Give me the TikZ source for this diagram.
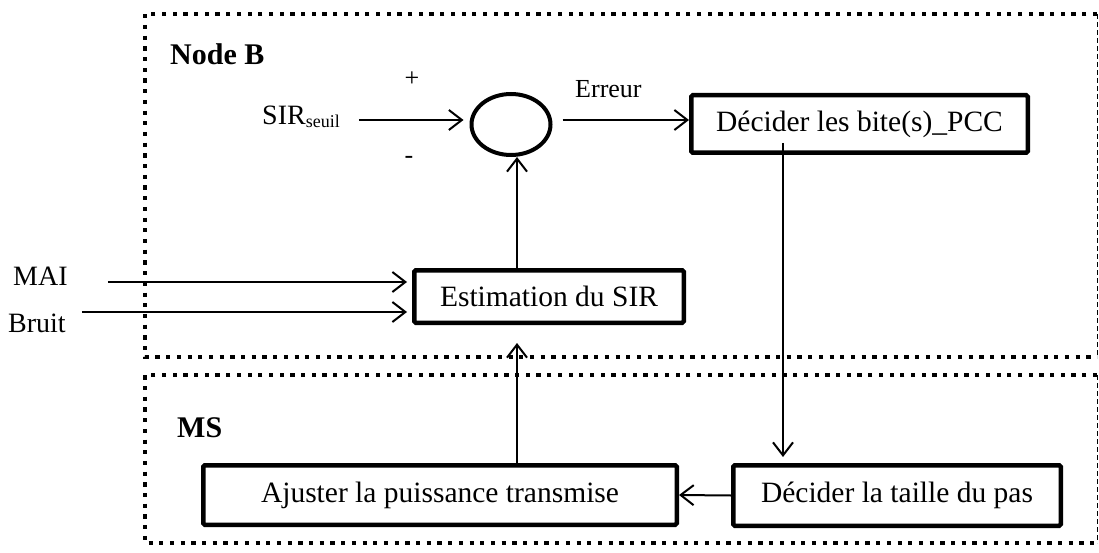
\documentclass[tikz,border=0pt]{standalone}
\usepackage{fontspec}
\setmainfont{Liberation Serif}
\usetikzlibrary{arrows.meta,shapes.geometric}
\begin{document}
\begin{tikzpicture}[x=1pt,y=-1pt,
  blk/.style={draw, line width=4.5pt, rounded corners=1.5pt, inner sep=0pt,
              font=\fontsize{29.5}{32}\selectfont},
  lbl/.style={inner sep=0pt, font=\fontsize{28}{30}\selectfont},
  sml/.style={inner sep=0pt, font=\fontsize{26}{28}\selectfont},
  hdr/.style={inner sep=0pt, font=\fontsize{30}{32}\selectfont\bfseries},
  arr/.style={line width=2pt, -{Straight Barb[length=13pt,width=20pt,line width=2pt]}},
  grp/.style={line width=4.2pt, dash pattern=on 4.2pt off 6.5pt},
  grpedge/.style={line width=1pt, dash pattern=on 5pt off 3pt}]
\useasboundingbox (0,0) rectangle (1099,553);

% group frames: Node B (top) and MS (bottom)
\draw[grp] (1097,14) -- (145,14) -- (145,357) -- (1097,357);
\draw[grpedge] (1097,14) -- (1097,357);
\draw[grp] (1097,375) -- (145,375) -- (145,543) -- (1097,543);
\draw[grpedge] (1097,375) -- (1097,543);

\node[hdr, anchor=base west] (nb) at (170,65) {Node B};
\node[hdr, anchor=base west] (ms) at (177,437) {MS};

% blocks
\node[ellipse, draw, line width=4pt, minimum width=79pt, minimum height=61pt, inner sep=0pt] (circ) at (511,124.5) {};
\node[blk, minimum width=336.5pt, minimum height=57.5pt] (pcc) at (859.5,124) {Décider les bite(s)\_PCC};
\node[blk, minimum width=269.5pt, minimum height=52.5pt] (est) at (549,296.5) {Estimation du SIR};
\node[blk, minimum width=473.5pt, minimum height=59.5pt] (aj) at (440,495) {Ajuster la puissance transmise};
\node[blk, minimum width=327.5pt, minimum height=60.5pt] (taille) at (897,495.5) {Décider la taille du pas\hspace{19pt}};

% labels
\node[lbl, anchor=base west] (sir) at (262,125) {SIR\raisebox{-2.5pt}{\fontsize{18}{18}\selectfont seuil}};
\node[sml] (plus) at (412,79) {+};
\node[sml] (minus) at (409,160) {-};
\node[sml, anchor=base west] (err) at (575,98) {Erreur};
\node[lbl, anchor=base west] (mai) at (13,285) {MAI};
\node[lbl, anchor=base west] (bruit) at (8,332) {Bruit};

% reference points for connectors
\coordinate (lvl) at (0,120);
\coordinate (vx) at (517,0);
\coordinate (dx) at (783,0);
\coordinate (inA) at ([yshift=14.5pt]est.west);
\coordinate (inB) at ([yshift=-15.5pt]est.west);

% connectors
\draw[arr, shorten <=19pt, shorten >=6pt] (sir.east |- lvl) -- (circ.west |- lvl);
\draw[arr, shorten <=10pt] (circ.east |- lvl) -- (pcc.west |- lvl);
\draw[arr] (est.north -| vx) -- (circ.south -| vx);
\draw[arr, shorten >=18pt] (aj.north -| vx) -- (est.south -| vx);
\draw[arr, shorten <=-12pt, shorten >=6pt] (pcc.south -| dx) -- (taille.north -| dx);
\draw[arr] (taille.west) -- (aj.east);
\draw[arr, shorten <=40pt, shorten >=5pt] (mai.east |- inA) -- (inA);
\draw[arr, shorten <=16pt, shorten >=5pt] (bruit.east |- inB) -- (inB);
\end{tikzpicture}
\end{document}
